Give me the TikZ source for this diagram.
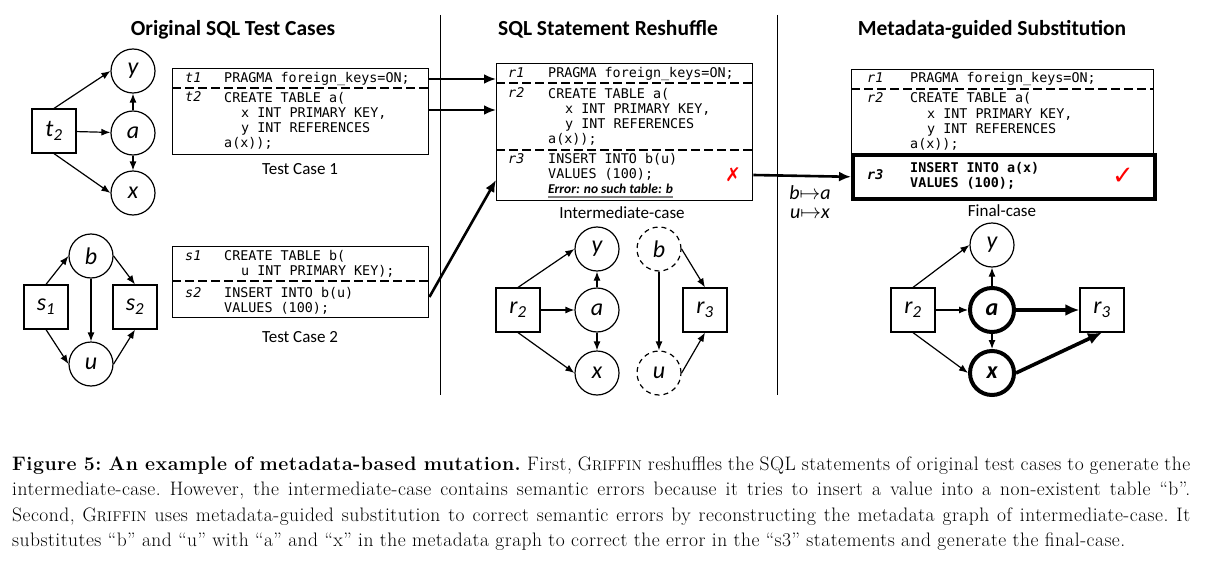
\documentclass[tikz,border=0pt]{standalone}
\usepackage{fontspec}
\setmainfont{Carlito}
\setmonofont{DejaVu Sans Mono}
\newfontfamily\capfont[LetterSpace=2.5]{Latin Modern Roman}
\newfontfamily\symfont{DejaVu Sans}
\usetikzlibrary{arrows.meta}

\newcommand{\nsub}[2]{#1\textsubscript{#2}}
\newcommand{\griffin}{G{\fontsize{14}{25.5}\selectfont RIFFIN}}

\tikzset{
  vert/.style={draw,circle,minimum size=44pt,inner sep=0pt,line width=1.2pt,font=\fontsize{24}{28}\selectfont\itshape},
  ghost/.style={vert,dash pattern=on 5pt off 4pt},
  hot/.style={vert,line width=4pt,font=\fontsize{24}{28}\selectfont\bfseries\itshape},
  tbl/.style={draw,rectangle,minimum size=44pt,inner sep=0pt,line width=1.2pt,font=\fontsize{24}{28}\selectfont\itshape},
  arr/.style={-{Latex[length=9pt,width=7pt]},line width=1.2pt},
  bigarr/.style={-{Latex[length=12pt,width=10pt]},line width=2.6pt},
  hotarr/.style={-{Latex[length=14pt,width=12pt]},line width=3.6pt},
  sqlbox/.style={draw,rectangle,inner sep=0pt,line width=1.4pt,anchor=north west},
  dashsep/.style={line width=1.8pt,dash pattern=on 9pt off 4pt},
  code/.style={anchor=base west,inner sep=0pt,align=left,font=\fontsize{13.4}{15}\selectfont\ttfamily},
  lbl/.style={code,font=\fontsize{13.4}{15}\selectfont\ttfamily\itshape},
  head/.style={anchor=base,inner sep=0pt,font=\fontsize{21.5}{24}\selectfont\bfseries},
  casename/.style={anchor=base,inner sep=0pt,font=\fontsize{17}{20}\selectfont},
}

\begin{document}
\begin{tikzpicture}[x=1pt,y=-1pt]
\useasboundingbox (0,0) rectangle (1220,575);

% column titles and dividers
\node [head] at (233,36) (h1) {Original SQL Test Cases};
\node [head] at (608,36) (h2) {SQL Statement Reshuffle};
\node [head] at (992,36) (h3) {Metadata-guided Substitution};
\draw [line width=1pt] (440,15) -- (440,395);
\draw [line width=1pt] (777,15) -- (777,395);

% metadata graph of test case 1
\node [vert] at (133,71) (y1) {y};
\node [vert] at (133,193) (x1) {x};
\node [vert] at (133,133) (a1) {a} edge [arr] (y1) edge [arr] (x1);
\node [tbl] at (54,131) (t2) {\nsub{t}{2}} edge [arr] (a1);
\draw [arr] (t2.north) -- (y1.west);
\draw [arr] (t2.south) -- (x1.west);

% metadata graph of test case 2
\node [vert] at (91,364) (u1) {u};
\node [vert] at (91,256) (b1) {b} edge [arr] (u1);
\node [tbl] at (46,307) (s1) {\nsub{s}{1}};
\node [tbl] at (135,307) (s2) {\nsub{s}{2}};
\draw [arr] (s1.north) -- (b1.west);
\draw [arr] (s1.south) -- (u1.west);
\draw [arr] (b1.east) -- (s2.north);
\draw [arr] (u1.east) -- (s2.south);

% test case 1 (code nodes sit on the baseline of their last line)
\node [sqlbox,minimum width=256pt,minimum height=86pt] at (172,68) (tc1) {};
\draw [dashsep] (172,88) -- (428,88);
\node [lbl] at (185,83) (tc1l1) {t1};
\node [code] at (224,83) (tc1c1) {PRAGMA foreign\_keys=ON;};
\node [lbl] at (185,102) (tc1l2) {t2};
\node [code] at (224,147) (tc1c2) {CREATE TABLE a(\\\hspace*{17pt}x INT PRIMARY KEY,\\\hspace*{17pt}y INT REFERENCES\\a(x));};
\node [casename] at (300,174) (tc1n) {Test Case 1};

% test case 2
\node [sqlbox,minimum width=256pt,minimum height=71pt] at (172,246) (tc2) {};
\draw [dashsep] (172,281) -- (428,281);
\node [lbl] at (185,260) (tc2l1) {s1};
\node [code] at (224,275) (tc2c1) {CREATE TABLE b(\\\hspace*{17pt}u INT PRIMARY KEY);};
\node [lbl] at (185,297) (tc2l2) {s2};
\node [code] at (224,312) (tc2c2) {INSERT INTO b(u)\\VALUES (100);};
\node [casename] at (300,342) (tc2n) {Test Case 2};

% intermediate case
\node [sqlbox,minimum width=256pt,minimum height=137pt] at (496,63) (mid) {};
\draw [dashsep] (496,83) -- (752,83);
\draw [dashsep] (496,150) -- (752,150);
\node [lbl] at (508,78) (midl1) {r1};
\node [code] at (548,78) (midc1) {PRAGMA foreign\_keys=ON;};
\node [lbl] at (508,98) (midl2) {r2};
\node [code] at (548,143) (midc2) {CREATE TABLE a(\\\hspace*{17pt}x INT PRIMARY KEY,\\\hspace*{17pt}y INT REFERENCES\\a(x));};
\node [lbl] at (508,163) (midl3) {r3};
\node [code] at (548,178) (midc3) {INSERT INTO b(u)\\VALUES (100);};
\node [anchor=base west,inner sep=0pt,font=\fontsize{13.5}{15}\selectfont\bfseries\itshape] at (548,193) (err) {Error: no such table: b};
\draw [gray,line width=1.5pt] ([yshift=-4pt]err.base west) -- ([yshift=-4pt]err.base east);
\node [text=red,inner sep=0pt,font=\fontsize{19}{20}\selectfont\symfont] at (733,175) (bad) {✗};
\node [casename] at (622,218) (midn) {Intermediate-case};

\draw [bigarr] ([yshift=-11pt]tc1.north east) -- ([yshift=-16pt]mid.north west);
\draw [bigarr] ([yshift=-42pt]tc1.north east) -- ([yshift=-47pt]mid.north west);
\draw [bigarr] ([yshift=-51pt]tc2.north east) -- ([yshift=-117pt]mid.north west);

% metadata graph of the intermediate case
\node [vert] at (597,249) (y2) {y};
\node [vert] at (597,373) (x2) {x};
\node [vert] at (597,310) (a2) {a} edge [arr] (y2) edge [arr] (x2);
\node [tbl] at (518,310) (r2m) {\nsub{r}{2}} edge [arr] (a2);
\draw [arr] (r2m.north) -- (y2.west);
\draw [arr] (r2m.south) -- (x2.west);
\node [ghost] at (659,373) (u2) {u};
\node [ghost] at (659,249) (b2) {b} edge [arr] (u2);
\node [tbl] at (705,310) (r3m) {\nsub{r}{3}};
\draw [arr] (b2.east) -- (r3m.north);
\draw [arr] (u2.east) -- (r3m.south);

% final case
\node [sqlbox,minimum width=302pt,minimum height=84pt] at (851,69) (fin) {};
\node [sqlbox,line width=3.6pt,minimum width=302pt,minimum height=44pt] at (851,153) (finr3) {};
\draw [dashsep] (851,89) -- (1153,89);
\node [lbl] at (867,83) (finl1) {r1};
\node [code] at (910,83) (finc1) {PRAGMA foreign\_keys=ON;};
\node [lbl] at (867,103) (finl2) {r2};
\node [code] at (910,148) (finc2) {CREATE TABLE a(\\\hspace*{17pt}x INT PRIMARY KEY,\\\hspace*{17pt}y INT REFERENCES\\a(x));};
\node [lbl,font=\fontsize{13.4}{15}\selectfont\ttfamily\bfseries\itshape] at (867,179) (finl3) {r3};
\node [code,font=\fontsize{13.4}{15}\selectfont\ttfamily\bfseries] at (910,187) (finc3) {INSERT INTO a(x)\\VALUES (100);};
\node [text=red,inner sep=0pt,font=\fontsize{26}{28}\selectfont\symfont] at (1123,176) (good) {✓};
\node [casename] at (1002,216) (finn) {Final-case};

\draw [bigarr] ([yshift=-112pt]mid.north east) -- (finr3.west);
\node [anchor=base,inner sep=0pt,font=\fontsize{20}{22}\selectfont] at (810,199) (m1) {\textit{b}$\mapsto$\textit{a}};
\node [anchor=base,inner sep=0pt,font=\fontsize{20}{22}\selectfont] at (810,218) (m2) {\textit{u}$\mapsto$\textit{x}};

% metadata graph of the final case
\node [vert] at (992,245) (y3) {y};
\node [hot] at (992,373) (x3) {x};
\node [hot] at (992,310) (a3) {a} edge [arr] (y3) edge [arr] (x3);
\node [tbl] at (913,310) (r2f) {\nsub{r}{2}} edge [arr] (a3);
\draw [arr] (r2f.north) -- (y3.west);
\draw [arr] (r2f.south) -- (x3.west);
\node [tbl] at (1102,310) (r3f) {\nsub{r}{3}};
\draw [hotarr] (a3) -- (r3f);
\draw [hotarr] (x3.east) -- (r3f.south);

% caption
\node [anchor=base west,inner sep=0pt,text width=1178pt,align=justify,font=\capfont\fontsize{19.5}{25.5}\selectfont] at (12,470) (caption)
{\frenchspacing\hyphenpenalty=10000 \textbf{Figure 5: An example of metadata-based mutation.} First, \griffin{} reshuffles the SQL statements of original test cases to generate the\linebreak
intermediate-case. However, the intermediate-case contains semantic errors because it tries to insert a value into a non-existent table “b”.\linebreak
Second, \griffin{} uses metadata-guided substitution to correct semantic errors by reconstructing the metadata graph of intermediate-case. It\linebreak
substitutes “b” and “u” with “a” and “x” in the metadata graph to correct the error in the “s3” statements and generate the final-case.};
\end{tikzpicture}
\end{document}
